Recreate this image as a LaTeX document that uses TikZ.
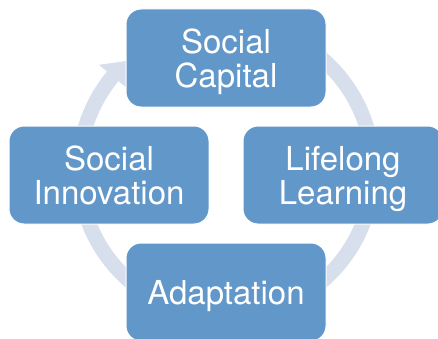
\documentclass[tikz,border=0pt]{standalone}
\usepackage{fontspec}
\setmainfont{TeX Gyre Heros}
\usepackage{tikz}

\definecolor{boxblue}{HTML}{6297C9}
\definecolor{ringblue}{HTML}{D8DFEC}
\newcommand{\nodepth}[1]{\raisebox{0pt}[\height][0pt]{#1}}

\begin{document}
\begin{tikzpicture}[x=1pt,y=1pt,
  box/.style={draw=white, line width=1pt, fill=boxblue, rounded corners=15pt,
    minimum width=200pt, minimum height=98pt, inner sep=0pt, align=center,
    text=white, font=\fontsize{33}{34}\selectfont}]
\useasboundingbox (0,0) rectangle (438,338);

\coordinate (c) at (226,168);

% cycle arrow behind the boxes
\fill[ringblue] ([shift={(c)}]85:154.5) arc[start angle=85, end angle=-219.6, radius=154.5]
  -- ([shift={(c)}]-219.6:165) -- ([shift={(c)}]-227.4:148)
  -- ([shift={(c)}]-219.6:129.5) -- ([shift={(c)}]-219.6:139.5)
  arc[start angle=-219.6, end angle=85, radius=139.5] -- cycle;

\node[box, anchor=center] (1) at (226,280)
{Social\\\nodepth{Capital}};

\node[box, anchor=center] (2) at (343,163)
{Lifelong\\\nodepth{Learning}};

\node[box, anchor=center] (3) at (226,46)
{\nodepth{Adaptation}};

\node[box, anchor=center] (4) at (109,163)
{Social\\\nodepth{Innovation}};
\end{tikzpicture}
\end{document}
